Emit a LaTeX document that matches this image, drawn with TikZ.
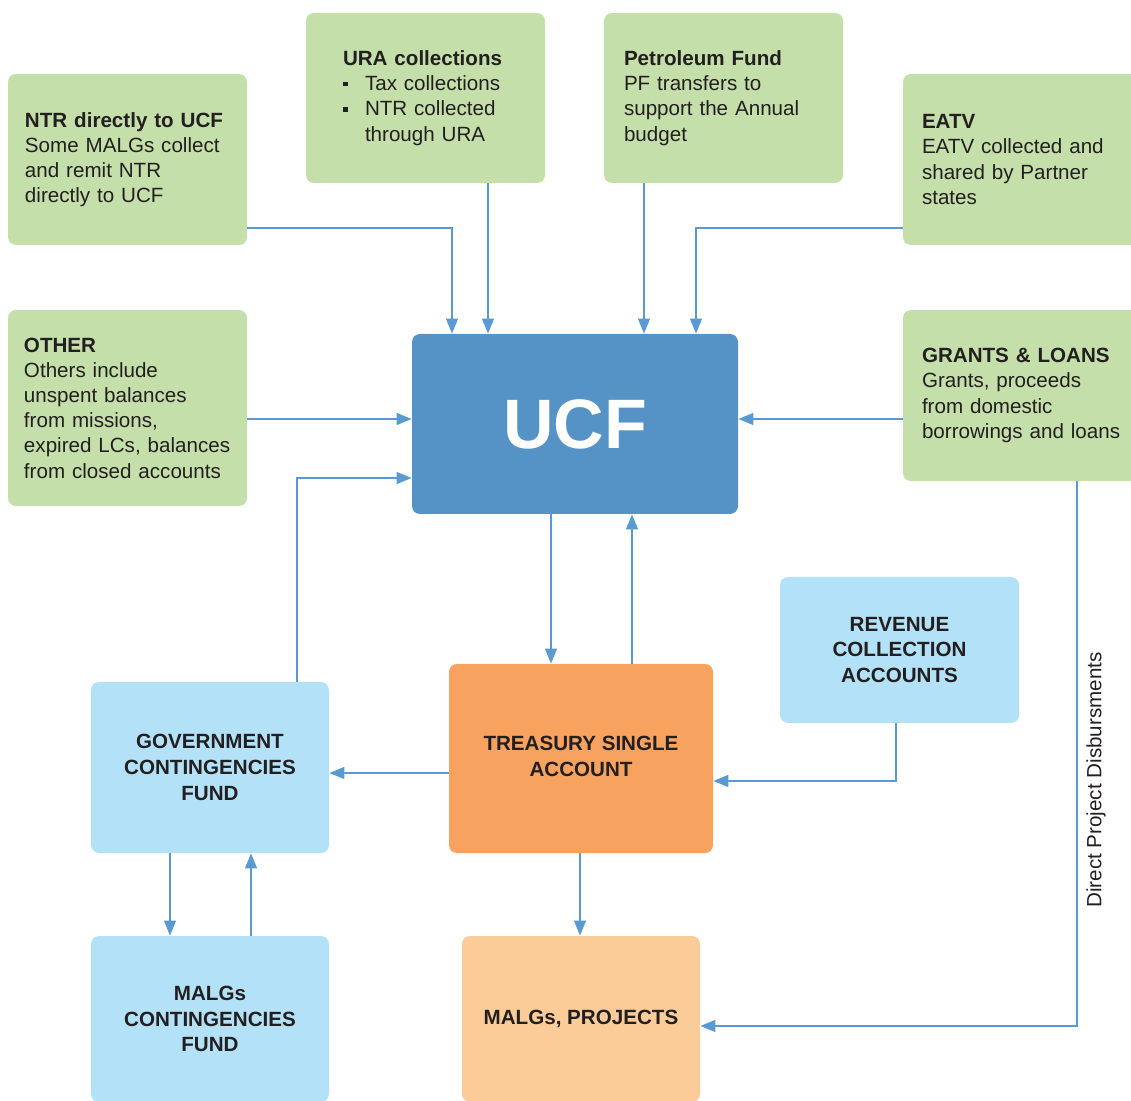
\documentclass[tikz,border=0pt]{standalone}
\usepackage{fontspec}
\setmainfont{Liberation Sans}
\usetikzlibrary{arrows.meta,calc}
\definecolor{gbox}{HTML}{C5DFAA}
\definecolor{bbox}{HTML}{B3E2F8}
\definecolor{ucfc}{HTML}{5593C7}
\definecolor{tsac}{HTML}{F7A35F}
\definecolor{projc}{HTML}{FBCB98}
\definecolor{arrc}{HTML}{5A9AD2}
\definecolor{txt}{HTML}{231F20}
\hyphenpenalty=10000
\exhyphenpenalty=10000
\newcommand{\sqb}{\makebox[11pt][l]{\raisebox{2.2pt}{\rule{2.3pt}{2.3pt}}}}
\begin{document}
\begin{tikzpicture}[x=0.5pt,y=-0.5pt,
  every node/.style={text=txt},
  base/.style={draw=none, rounded corners=4pt, inner ysep=0pt, font=\fontsize{10.3}{12.6}\selectfont},
  gbx/.style={base, fill=gbox, minimum width=119.5pt, inner xsep=9.5pt, text width=100.5pt, align=left},
  cbx/.style={base, align=center, font=\fontsize{10.3}{12.9}\selectfont\bfseries},
  arr/.style={draw=arrc, line width=0.65pt, -{Triangle[length=7.5pt,width=6pt]}}]
\useasboundingbox (0,0) rectangle (1131,1101);
\clip (0,0) rectangle (1131,1101);
% top green boxes
\node[gbx, minimum height=85.5pt, inner xsep=8.5pt, text width=102.5pt] (ntr) at (127.5,159.5)
  {\textbf{NTR directly to UCF}\\Some MALGs collect\\and remit NTR\\directly to UCF};
\node[gbx, minimum height=85pt, inner xsep=18.5pt, text width=82.5pt] (ura) at (425.5,98)
  {\textbf{URA collections}\\\sqb Tax collections\\\sqb NTR collected\\\hspace*{11pt}through URA};
\node[gbx, minimum height=85pt, inner xsep=10pt, text width=99.5pt] (pf) at (723.5,98)
  {\textbf{Petroleum Fund}\\PF transfers to\\support the Annual\\budget\\[2pt]};
\node[gbx, minimum height=85.5pt] (eatv) at (1022.5,159.5)
  {\textbf{EATV}\\EATV collected and\\shared by Partner\\states};
\node[gbx, minimum height=98pt, inner xsep=8pt, text width=103.5pt] (other) at (127.5,408)
  {\textbf{OTHER}\\Others include\\unspent balances\\from missions,\\expired LCs, balances\\from closed accounts};
\node[gbx, minimum height=85.5pt] (grants) at (1022.5,395.5)
  {\textbf{GRANTS \& LOANS}\\Grants, proceeds\\from domestic\\borrowings and loans};
% UCF
\node[base, fill=ucfc, minimum width=163pt, minimum height=90pt, text=white,
  font=\fontsize{35}{40}\selectfont\bfseries] (ucf) at (575,424) {UCF};
% lower boxes
\node[cbx, fill=bbox, minimum width=119.5pt, minimum height=73pt] (rev) at (899.5,650)
  {REVENUE\\COLLECTION\\ACCOUNTS};
\node[cbx, fill=bbox, minimum width=119pt, minimum height=85.5pt] (gcf) at (210,767.5)
  {GOVERNMENT\\CONTINGENCIES\\FUND};
\node[cbx, fill=tsac, minimum width=132pt, minimum height=94.5pt] (tsa) at (581,758.5)
  {\raisebox{2pt}{TREASURY SINGLE}\\\raisebox{2pt}{ACCOUNT}};
\node[cbx, fill=bbox, minimum width=119pt, minimum height=83pt] (mcf) at (210,1019)
  {MALGs\\CONTINGENCIES\\FUND};
\node[cbx, fill=projc, minimum width=119pt, minimum height=83pt] (proj) at (581,1019)
  {MALGs, PROJECTS};
\node[rotate=90, font=\fontsize{10.3}{12}\selectfont] (dpd) at (1096,780) {Direct Project Disbursments};
% connectors
\draw[arr] (ntr.east |- 0,228) -| (ucf.north -| 452,0);
\draw[arr] (ura.south -| 488,0) -- (ucf.north -| 488,0);
\draw[arr] (pf.south -| 644,0) -- (ucf.north -| 644,0);
\draw[arr] (eatv.west |- 0,228) -| (ucf.north -| 696,0);
\draw[arr] (other.east |- 0,419) -- (ucf.west |- 0,419);
\draw[arr] (grants.west |- 0,419) -- (ucf.east |- 0,419);
\draw[arr] (gcf.north -| 297,0) |- (ucf.west |- 0,478);
\draw[arr] (ucf.south -| 551,0) -- (tsa.north -| 551,0);
\draw[arr] (tsa.north -| 632,0) -- (ucf.south -| 632,0);
\draw[arr] (tsa.west |- 0,773) -- (gcf.east |- 0,773);
\draw[arr] (rev.south -| 896,0) |- (tsa.east |- 0,781);
\draw[arr] (tsa.south -| 580,0) -- (proj.north -| 580,0);
\draw[arr] (gcf.south -| 170,0) -- (mcf.north -| 170,0);
\draw[arr] (mcf.north -| 251,0) -- (gcf.south -| 251,0);
\draw[arr] (grants.south -| 1077,0) |- (proj.east |- 0,1026);
\end{tikzpicture}
\end{document}
